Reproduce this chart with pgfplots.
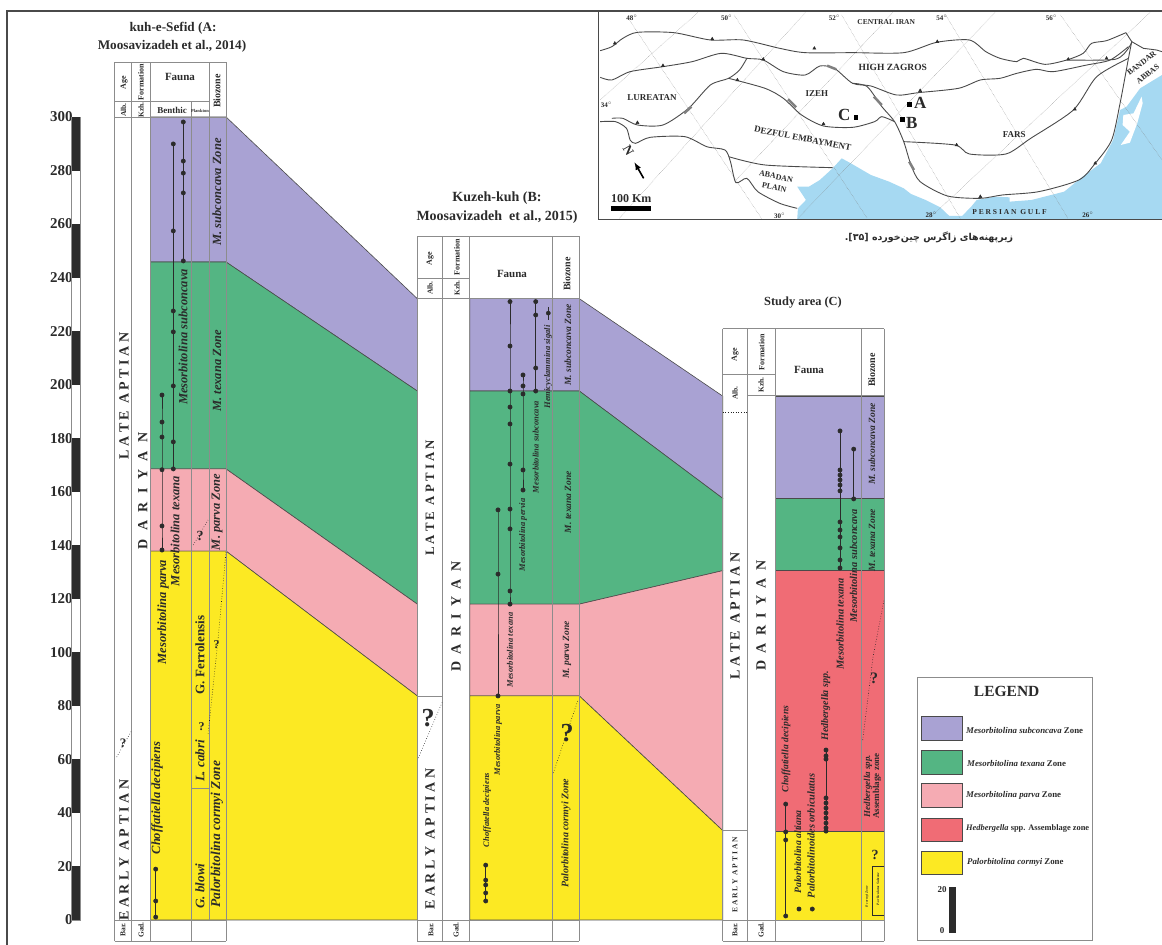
\documentclass[border=0pt]{standalone}
\usepackage{fontspec}
\usepackage{pgfplots}
\pgfplotsset{compat=1.18}
\setmainfont{Liberation Serif}
\newfontfamily\arabicfont[Script=Arabic]{DejaVu Sans}
\TeXXeTstate=1

\definecolor{zpurple}{HTML}{A9A2D3}
\definecolor{zgreen}{HTML}{54B583}
\definecolor{zpink}{HTML}{F5ABB3}
\definecolor{zred}{HTML}{F06C75}
\definecolor{zyellow}{HTML}{FCE923}
\definecolor{sea}{HTML}{A6D9F2}
\definecolor{edge}{HTML}{4A4A4A}
\definecolor{rulec}{HTML}{8C8C8C}
\definecolor{ink}{HTML}{2B2B2B}

\newcommand\fs[1]{\fontsize{#1}{#1}\selectfont}
\tikzset{txt/.style={text=ink,inner sep=0pt}}
% rotated labels: x, y centre, size, text
\newcommand\vi[4]{\node[txt,rotate=90,font=\bfseries\itshape\fs{#3}] at (axis cs:#1,#2) {#4};}
\newcommand\vb[4]{\node[txt,rotate=90,font=\bfseries\fs{#3}] at (axis cs:#1,#2) {#4};}
\newcommand\spaced[5]{\node[txt,rotate=90,font=\bfseries\fs{#3}] at (axis cs:#1,#2) {\setlength{\spaceskip}{#4pt}#5};}
\newcommand\hb[4]{\node[txt,font=\bfseries\fs{#3}] at (axis cs:#1,#2) {#4};}
% table rules
\newcommand\vseg[3]{\addplot[rulec,line width=.8pt] coordinates {(#1,#2) (#1,#3)};}
\newcommand\hseg[3]{\addplot[rulec,line width=.8pt] coordinates {(#2,#1) (#3,#1)};}
\newcommand\dotline[1]{\addplot[ink!80!black,dotted,line width=.6pt] coordinates {#1};}
\newcommand\gratline[1]{\addplot[gray,densely dotted,line width=.4pt] coordinates {#1};}
\newcommand\zone[2]{\addplot[fill=#1,draw=edge,line width=.6pt] coordinates {#2} --cycle;}
\newcommand\range[1]{\addplot[ink,line width=.6pt,mark=*,mark size=2.1pt,mark options={fill=ink,draw=ink}] coordinates {#1};}
\newcommand\fault[1]{\addplot[edge,line width=.9pt,smooth,tension=.45] coordinates {#1};}
\newcommand\swatch[3]{\addplot[fill=#1,draw=edge,line width=.8pt] coordinates {(921.7,#2) (962.3,#2) (962.3,#3) (921.7,#3)} --cycle;}

\pgfplotsset{page/.style={scale only axis,anchor=south west,hide axis,clip=false}}

\begin{document}
\begin{tikzpicture}
\useasboundingbox (0,0) rectangle (1162pt,945pt);

% sections: x in sheet pixels, y in metres
\begin{axis}[page,at={(0,0)},width=1162pt,height=945pt,
    xmin=0,xmax=1162,ymin=-9.339,ymax=343.67]
% kuh-e-Sefid and its correlation to Kuzeh-kuh
\zone{zpurple}{(150.5,300) (226,300) (417.3,232.1) (417.3,197.6) (226,245.8) (150.5,245.8)}
\zone{zgreen}{(150.5,245.8) (226,245.8) (417.3,197.6) (417.3,118) (226,168.5) (150.5,168.5)}
\zone{zpink}{(150.5,168.5) (226,168.5) (417.3,118) (417.3,83.7) (226,137.8) (150.5,137.8)}
\zone{zyellow}{(150.5,137.8) (226,137.8) (417.3,83.7) (417.3,0) (150.5,0)}
% Kuzeh-kuh and its correlation to the study area
\zone{zpurple}{(469.7,232.1) (579.3,232.1) (722.7,195.7) (722.7,157.5) (579.3,197.6) (469.7,197.6)}
\zone{zgreen}{(469.7,197.6) (579.3,197.6) (722.7,157.5) (722.7,130.5) (579.3,118) (469.7,118)}
\zone{zpink}{(469.7,118) (579.3,118) (722.7,130.5) (722.7,33.4) (579.3,83.7) (469.7,83.7)}
\zone{zyellow}{(469.7,83.7) (579.3,83.7) (722.7,33.4) (722.7,0) (469.7,0)}
% study area
\zone{zpurple}{(775.3,195.7) (884,195.7) (884,157.5) (775.3,157.5)}
\zone{zgreen}{(775.3,157.5) (884,157.5) (884,130.5) (775.3,130.5)}
\zone{zred}{(775.3,130.5) (884,130.5) (884,33) (775.3,33)}
\zone{zyellow}{(775.3,33) (884,33) (884,0) (775.3,0)}

% fossil ranges, section A
\range{(155.7,19) (155.7,7.1) (155.7,1.1)}
\range{(162,196.1) (162,186) (162,180.4) (162,168.2) (162,147.2) (162,138.2)}
\range{(173.3,289.9) (173.3,257.4) (173.3,227.5) (173.3,219.7) (173.3,199.5) (173.3,178.6) (173.3,168.5)}
\range{(183.3,298.1) (183.3,283.5) (183.3,279) (183.3,271.6) (183.3,246.2)}
% section B
\range{(485.7,20.5) (485.7,14.9) (485.7,13.1) (485.7,10.1) (485.7,7.1)}
\range{(498,153.2) (498,129.2) (498,83.7)}
\range{(510,231) (510,214.4) (510,197.6) (510,191.6) (510,185.3) (510,170.3) (510,153.5) (510,146.1) (510,122.9) (510,118)}
\range{(523,203.6) (523,199.5) (523,196.5) (523,168.1) (523,160.6)}
\range{(535.7,231) (535.7,226) (535.7,206.2) (535.7,197.6)}
\addplot[ink,line width=.6pt] coordinates {(548.3,229) (548.3,224.1)};
\addplot[only marks,mark=*,mark size=2.1pt,mark options={fill=ink,draw=ink}] coordinates {(548.3,226.7)};
% section C
\range{(785.7,43.3) (785.7,32.9) (785.7,29.9) (785.7,1.5)}
\range{(799,4.1)}
\range{(812.3,4.1)}
\range{(826,63.5) (826,61.3) (826,60.1) (826,45.6) (826,43.7) (826,41.8) (826,40) (826,38.1) (826,36.2) (826,34.4) (826,33.2)}
\range{(840,182.7) (840,168.1) (840,166.2) (840,164.4) (840,162.5) (840,160.3) (840,148.7) (840,145.7) (840,143.1) (840,139) (840,134.5) (840,131.5)}
\range{(853.7,175.9) (853.7,157.3)}
\end{axis}

% thickness scale
\begin{axis}[scale only axis,anchor=south west,at={(71.7pt,25pt)},width=8.3pt,height=803pt,
    clip=false,xmin=0,xmax=1,ymin=0,ymax=300,axis x line=none,axis y line=left,
    y axis line style={draw=none},major tick length=0pt,ytick distance=20,
    yticklabel style={font=\bfseries\fs{15},text=ink,inner xsep=0pt,xshift=1pt,
      /pgf/number format/assume math mode=true}]
\addplot[fill=white,draw=rulec,line width=.6pt] coordinates {(0,0) (1,0) (1,300) (0,300)} --cycle;
\addplot[fill=ink,draw=none] coordinates {(0,0) (1,0) (1,20) (0,20)} --cycle;
\addplot[fill=ink,draw=none] coordinates {(0,40) (1,40) (1,60) (0,60)} --cycle;
\addplot[fill=ink,draw=none] coordinates {(0,80) (1,80) (1,100) (0,100)} --cycle;
\addplot[fill=ink,draw=none] coordinates {(0,120) (1,120) (1,140) (0,140)} --cycle;
\addplot[fill=ink,draw=none] coordinates {(0,160) (1,160) (1,180) (0,180)} --cycle;
\addplot[fill=ink,draw=none] coordinates {(0,200) (1,200) (1,220) (0,220)} --cycle;
\addplot[fill=ink,draw=none] coordinates {(0,240) (1,240) (1,260) (0,260)} --cycle;
\addplot[fill=ink,draw=none] coordinates {(0,280) (1,280) (1,300) (0,300)} --cycle;
\end{axis}

% location map: coordinates of a 1568 x 780 sheet
\begin{axis}[page,at={(590pt,685pt)},width=572pt,height=260pt,
    xmin=0,xmax=1568,ymin=0,ymax=780,y dir=reverse]
\addplot[fill=sea,draw=none] coordinates {(568,657) (570,625) (592,600) (568,560) (600,560) (630,540) (665,505) (690,475) (715,490) (770,525) (820,545) (860,565) (880,582) (920,600) (960,622) (985,648) (1020,648) (1045,620) (1060,600) (1110,590) (1150,592) (1150,605) (1210,600) (1300,575) (1350,530) (1400,490) (1434,420) (1453,330) (1471,320) (1508,265) (1568,225) (1568,657)} --cycle;
\addplot[fill=white,draw=none] coordinates {(1512,290) (1490,340) (1462,345) (1460,375) (1480,395) (1455,435) (1480,428) (1500,370) (1515,310)} --cycle;
% graticule
\gratline{(108,60) (470,655)}
\gratline{(395,45) (760,655)}
\gratline{(690,45) (1015,655)}
\gratline{(975,45) (1310,655)}
\gratline{(1290,45) (1568,480)}
\gratline{(295,38) (28,300)}
\gratline{(590,38) (80,655)}
\gratline{(830,38) (400,540)}
\gratline{(1110,38) (570,655)}
\gratline{(1535,38) (930,655)}
% thrusts
\fault{(28,152) (60,140) (90,115) (130,97) (230,98) (330,120) (420,120) (520,145) (590,158) (720,158) (860,158) (950,127) (1040,120) (1085,155) (1124,175) (1170,185) (1188,175) (1247,193) (1307,180) (1352,160) (1375,130) (1416,122) (1469,98)}
\addplot[edge,line width=.9pt] coordinates {(1469,98) (1485,125) (1517,145) (1553,150) (1568,155)};
\fault{(1307,180) (1439,178) (1476,145) (1485,125)}
\fault{(28,232) (60,240) (110,215) (200,200) (280,185) (360,160) (430,175) (475,180) (530,215) (590,225) (630,198) (670,205) (720,250) (770,258) (840,285) (900,278) (1010,265) (1070,240) (1124,235) (1170,220) (1224,208) (1270,215) (1362,195) (1426,180) (1476,140)}
\fault{(430,175) (410,210) (380,235) (330,255) (270,325) (200,375) (130,375) (90,355) (60,355)}
\fault{(28,365) (70,365) (100,385) (110,420) (125,430) (165,412) (260,410) (320,440) (370,450) (385,485) (400,548) (430,535) (460,575) (520,610) (568,625)}
\fault{(380,235) (480,265) (530,295) (580,345) (640,378) (720,382) (780,365) (800,350) (835,365)}
\fault{(720,250) (760,260) (800,320) (835,365) (860,425) (880,495) (905,545) (980,588) (1070,595) (1130,585) (1230,575) (1340,540) (1385,490) (1430,420) (1453,310) (1476,175)}
\fault{(860,425) (1000,435) (1040,462) (1140,462) (1208,415) (1325,330) (1389,230) (1476,175)}
\addplot[edge,line width=.9pt] coordinates {(1476,175) (1485,125)};
\fault{(380,470) (480,495) (665,503)}
\addplot[only marks,mark=triangle*,mark size=1.8pt,mark options={fill=ink,draw=ink}] coordinates {(68,130) (335,117) (615,145) (952,125) (1311,178) (1416,175) (200,197) (475,178) (404,240) (130,368) (640,372) (905,272) (1005,435) (1329,328) (1385,490) (1070,590)};
\addplot[gray,line width=2.5pt] coordinates {(650,197) (675,208)};
\addplot[gray,line width=2.5pt] coordinates {(778,290) (800,315)};
\addplot[gray,line width=2.5pt] coordinates {(543,298) (565,322)};
\addplot[gray,line width=2.5pt] coordinates {(258,340) (278,320)};
\addplot[gray,line width=2.5pt] coordinates {(875,485) (888,510)};
% location squares, scale bar, north arrow
\addplot[only marks,mark=square*,mark size=1.8pt,mark options={fill=black,draw=black}] coordinates {(728,351) (875,313) (855,358)};
\addplot[black,line width=5pt] coordinates {(57,627) (168,627)};
\addplot[black,line width=1.6pt,-latex] coordinates {(147,535) (122,487)};
% frame
\addplot[edge,line width=1.6pt] coordinates {(23,33) (23,658) (1568,658)};
\hb{115}{52}{7}{48$^{\circ}$}
\hb{375}{52}{7}{50$^{\circ}$}
\hb{670}{52}{7}{52$^{\circ}$}
\hb{965}{52}{7}{54$^{\circ}$}
\hb{1265}{52}{7}{56$^{\circ}$}
\hb{45}{315}{7}{34$^{\circ}$}
\hb{520}{648}{7}{30$^{\circ}$}
\hb{935}{645}{7}{28$^{\circ}$}
\hb{1365}{645}{7}{26$^{\circ}$}
\hb{812}{67}{7.5}{CENTRAL IRAN}
\hb{830}{202}{9.5}{HIGH ZAGROS}
\hb{170}{292}{9}{LUREATAN}
\hb{622}{282}{9}{IZEH}
\node[txt,rotate=-11,font=\bfseries\fs{9}] at (axis cs:583,415) {DEZFUL EMBAYMENT};
\hb{1163}{405}{9}{FARS}
\node[txt,rotate=-12,font=\bfseries\fs{8}] at (axis cs:510,530) {ABADAN};
\node[txt,rotate=-12,font=\bfseries\fs{8}] at (axis cs:505,562) {PLAIN};
\node[txt,rotate=38,font=\bfseries\fs{8}] at (axis cs:1512,190) {BANDAR};
\node[txt,rotate=38,font=\bfseries\fs{8}] at (axis cs:1529,222) {ABBAS};
\hb{1150}{637}{7.5}{P E R S I A N\ \ G U L F}
\hb{697}{345}{17}{C}
\hb{905}{308}{17}{A}
\hb{882}{368}{17}{B}
\hb{113}{597}{12}{100 Km}
\node[txt,rotate=-60,font=\bfseries\fs{13}] at (axis cs:105,452) {N};
\end{axis}

% column rules, text and legend: sheet pixels from the top left
\begin{axis}[page,at={(0,0)},width=1162pt,height=945pt,
    xmin=0,xmax=1162,ymin=0,ymax=945,y dir=reverse]
% sheet frame
\addplot[edge,line width=2.4pt] coordinates {(7,945) (7,11) (1162,11)};

% section A table
\vseg{114.5}{62}{941} \vseg{131.5}{62}{941} \vseg{150.5}{62}{941}
\vseg{191}{101}{941} \vseg{209}{62}{920} \vseg{226}{62}{941}
\hseg{62}{114.5}{226} \hseg{101}{114.5}{209} \hseg{117}{114.5}{226}
\hseg{920}{114.5}{226} \hseg{941}{114.5}{226} \hseg{788}{191}{209}
% section B table
\vseg{417.3}{236}{941} \vseg{442.3}{236}{941} \vseg{469.7}{236}{941}
\vseg{552.7}{236}{941} \vseg{579.3}{236}{941}
\hseg{236}{417.3}{579.3} \hseg{278}{417.3}{469.7} \hseg{298.7}{417.3}{579.3}
\hseg{696}{417.3}{442.3} \hseg{920}{417.3}{579.3} \hseg{941}{417.3}{579.3}
% section C table
\vseg{722.7}{328.7}{941} \vseg{747.7}{328.7}{941} \vseg{775.3}{328.7}{941}
\vseg{861.3}{328.7}{941} \vseg{884}{328.7}{941}
\hseg{328.7}{722.7}{884} \hseg{374}{722.7}{775.3} \hseg{395.5}{747.7}{884}
\hseg{830.5}{722.7}{747.7} \hseg{920}{722.7}{884} \hseg{941}{722.7}{884}
\dotline{(722.7,412.7) (747.7,412.7)}

% uncertain boundaries
\dotline{(116.7,757) (132,730)}
\dotline{(193.3,545) (208,520)}
\dotline{(226,552) (218,640) (209,725) (208,735)}
\dotline{(418.3,758) (442.3,702)}
\dotline{(553.3,773) (578,700)}
\dotline{(862.7,740) (873,657) (884,600)}
\addplot[ink,line width=.5pt] coordinates {(884,915) (872.3,915) (872.3,866.7) (884,866.7)};

% titles
\hb{173}{28}{13.2}{kuh-e-Sefid (A:}
\hb{172}{46}{13.2}{Moosavizadeh et al., 2014)}
\hb{497}{198}{14}{Kuzeh-kuh (B:}
\hb{497}{217}{14}{Moosavizadeh\ \ et al., 2015)}
\hb{803}{303}{12.4}{Study area (C)}
\node[txt,font=\bfseries\fs{9.5}] at (axis cs:929,237) {\arabicfont\beginR زیرپهنه‌های زاگرس چین‌خورده [۳۵].\endR};

% section A headers
\vb{124}{83}{8}{Age} \vb{141}{82}{8}{Formation} \hb{180}{77}{11}{Fauna} \vb{217}{91}{10}{Biozone}
\vb{123.5}{110}{7.5}{Alb.} \vb{141}{110}{7.5}{Kzh.} \hb{172}{110}{9}{Benthic} \hb{200}{111}{4.5}{Plankton}
\vb{123}{930}{7.5}{Bar.} \vb{141}{930}{7.5}{Gad.}
% section A columns
\vb{124}{396}{14}{L A T E\ \ A P T I A N}
\vb{124}{850}{14}{E A R L Y\ \ A P T I A N}
\spaced{142.7}{491}{14}{8.5}{D A R I Y A N}
\vi{157}{798}{12.5}{Choffatiella decipiens}
\vi{163}{612}{12.5}{Mesorbitolina parva}
\vi{175}{531}{12.5}{Mesorbitolina texana}
\vi{183}{337}{12.5}{Mesorbitolina subconcava}
\vb{200}{655}{13}{G. Ferrolensis}
\vi{200}{761}{13}{L. cabri}
\vi{200}{886}{13}{G. blowi}
\vi{217}{834}{13.5}{Palorbitolina cormyi Zone}
\vi{217}{512}{12.5}{M. parva Zone}
\vi{217}{371}{12.5}{M. texana Zone}
\vi{217}{192}{12.5}{M. subconcava Zone}
\hb{123}{743}{13}{?} \hb{200}{536}{14}{?} \hb{216.7}{645}{12}{?} \hb{201.7}{727}{12}{?}

% section B headers
\vb{430}{259}{8}{Age} \vb{457}{257}{8}{Formation} \hb{512}{274}{11}{Fauna} \vb{567}{274}{10}{Biozone}
\vb{430}{288}{7.5}{Alb.} \vb{457}{288}{7.5}{Kzh.}
\vb{431}{930}{7.5}{Bar.} \vb{456}{930}{7.5}{Gad.}
% section B columns
\vb{430}{498}{12.8}{L A T E\ \ A P T I A N}
\vb{430}{839}{14}{E A R L Y\ \ A P T I A N}
\spaced{456}{616.5}{14}{7.3}{D A R I Y A N}
\vi{487}{810}{8.5}{Choffatella decipiens}
\vi{498}{740}{8.5}{Mesorbitolina parva}
\vi{510}{650}{8.5}{Mesorbitolina texana}
\vi{523}{535}{8.5}{Mesorbitolina pervia}
\vi{535.7}{447}{8.5}{Mesorbitolina subconcava}
\vi{548}{367}{8.5}{Hemicyclammina sigali}
\vi{568}{345}{9.5}{M. subconcava Zone}
\vi{568}{502}{9.5}{M. texana Zone}
\vi{567}{650}{9.5}{M. parva Zone}
\vi{566}{833}{10}{Palorbitolina cormyi Zone}
\hb{428}{718}{26}{?} \hb{567}{733}{26}{?}

% section C headers
\vb{735}{355}{8}{Age} \vb{761.7}{352}{8}{Formation} \hb{809}{370}{11}{Fauna} \vb{871.7}{370}{10}{Biozone}
\vb{735}{393}{7.5}{Alb.} \vb{761}{385}{7.5}{Kzh.}
\vb{735}{930}{7.5}{Bar.} \vb{761}{930}{7.5}{Gad.}
% section C columns
\vb{735}{616}{14}{L A T E\ \ A P T I A N}
\vb{735}{875}{7.5}{E A R L Y\ \ A P T I A N}
\spaced{761}{615.5}{14}{7.3}{D A R I Y A N}
\vi{786}{749}{9.6}{Choffatiella decipiens}
\vi{797.7}{852}{9.7}{Palorbitolina altiana}
\vi{811}{836}{10.4}{Palorbitolinoides orbiculatus}
\vi{825.7}{706}{10}{Hedbergella spp.}
\vi{840}{624}{10.4}{Mesorbitolina texana}
\vi{853.5}{566}{10.4}{Mesorbitolina subconcava}
\vi{872}{444}{9.5}{M. subconcava Zone}
\vi{872}{540}{9.5}{M. texana Zone}
\vi{868}{786}{9}{Hedbergella spp.}
\vb{877}{786}{9}{Assemblage zone}
\hb{874}{678}{16}{?} \hb{875}{855}{14}{?}
\vi{867}{897}{3.5}{P. cormyi Zone}
\vi{878}{889}{3.5}{P. orbiculatus Subzone}

% legend
\addplot[rulec,line width=.9pt] coordinates {(917.3,677.7) (1092.7,677.7) (1092.7,940.7) (917.3,940.7)} --cycle;
\hb{1006.7}{691.7}{15.5}{LEGEND}
\swatch{zpurple}{716.7}{740.7}
\swatch{zgreen}{750.3}{774}
\swatch{zpink}{783.3}{807}
\swatch{zred}{818.3}{841.7}
\swatch{zyellow}{851}{874.7}
\node[txt,anchor=west,font=\bfseries\fs{8.8}] at (axis cs:966,730) {\textit{Mesorbitolina subconcava} Zone};
\node[txt,anchor=west,font=\bfseries\fs{8.8}] at (axis cs:967,763) {\textit{Mesorbitolina texana} Zone};
\node[txt,anchor=west,font=\bfseries\fs{8.8}] at (axis cs:966,795) {\textit{Mesorbitolina parva} Zone};
\node[txt,anchor=west,font=\bfseries\fs{8.4}] at (axis cs:966,829) {\textit{Hedbergella} spp. Assemblage zone};
\node[txt,anchor=west,font=\bfseries\fs{8.8}] at (axis cs:967,862) {\textit{Palorbitolina cormyi} Zone};
\addplot[fill=ink,draw=none] coordinates {(949.3,886.7) (956,886.7) (956,933) (949.3,933)} --cycle;
\hb{942}{890}{9}{20}
\hb{942}{931}{9}{0}
\end{axis}
\end{tikzpicture}
\end{document}
